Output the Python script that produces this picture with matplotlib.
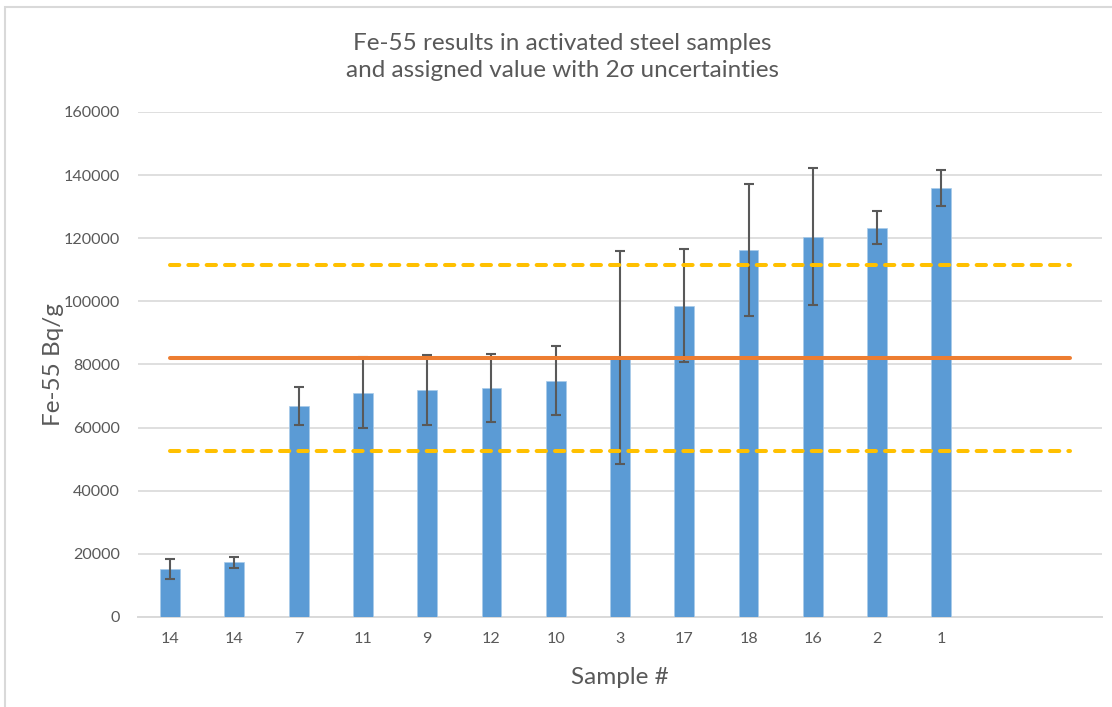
import numpy as np
import matplotlib
matplotlib.use("Agg")
import matplotlib.pyplot as plt
from matplotlib.patches import Rectangle

plt.rcParams['font.family'] = ['Lato', 'DejaVu Sans']
plt.rcParams['lines.scale_dashes'] = False

# Data
sample_labels = ['14', '14', '7', '11', '9', '12', '10', '3', '17', '18', '16', '2', '1']
fe55_values = [15200, 17300, 66800, 71100, 71900, 72500, 74900, 82300, 98600, 116200, 120400, 123400, 135900]
fe55_unc = [3100, 1800, 6000, 11200, 11000, 10800, 11000, 33700, 17900, 20900, 21700, 5300, 5700]
assigned_value = 82100
assigned_unc = 29500
n_slots = 15  # the category axis has two empty slots after the last sample

grey = '#595959'
grid_col = '#D9D9D9'

fig = plt.figure(figsize=(11.12, 7.07), dpi=100)
ax = fig.add_axes([0.1241, 0.1273, 0.8669, 0.7143])

x = np.arange(len(sample_labels))
ax.bar(x, fe55_values, width=0.31, color='#5B9BD5', edgecolor='#A9CBEA', linewidth=0.5,
       yerr=fe55_unc, zorder=2,
       error_kw=dict(ecolor=grey, elinewidth=1.5, capsize=3.3, capthick=1.5, zorder=3))

# assigned value and its 2-sigma band, drawn across all slots
xs = np.arange(n_slots)
ax.plot(xs, np.full(n_slots, assigned_value), color='#ED7D31', lw=2.9,
        solid_capstyle='round', zorder=4)
for lvl in (assigned_value + assigned_unc, assigned_value - assigned_unc):
    ax.plot(xs, np.full(n_slots, lvl), color='#FFC000', lw=2.9, dashes=(6.7, 6.5),
            dash_capstyle='round', zorder=4)

ax.set_xlim(-0.5, n_slots - 0.5)
ax.set_ylim(0, 160000)
ax.set_yticks(np.arange(0, 160001, 20000))
ax.set_xticks(x)
ax.set_xticklabels(sample_labels)
ax.tick_params(axis='both', length=0, labelsize=11.6, colors=grey)
ax.tick_params(axis='y', pad=13)
ax.tick_params(axis='x', pad=11)

ax.grid(axis='y', color=grid_col, lw=1.2, zorder=0)
ax.set_axisbelow(True)
for s in ('top', 'right', 'left'):
    ax.spines[s].set_visible(False)
ax.spines['bottom'].set_color(grid_col)
ax.spines['bottom'].set_linewidth(1.4)
ax.spines['bottom'].set_zorder(1)

ax.set_ylabel('Fe-55 Bq/g', fontsize=17.5, color=grey, labelpad=0)
ax.set_xlabel('Sample #', fontsize=17.5, color=grey, labelpad=15)

fig.text(0.506, 0.919, 'Fe-55 results in activated steel samples\nand assigned value with 2σ uncertainties',
         ha='center', va='center', fontsize=17.5, color=grey, linespacing=1.38)

# chart area border
fig.patches.append(Rectangle((5 / 1112, -0.01), 1.02, 1 - 7 / 707 + 0.01,
                             transform=fig.transFigure, fill=False,
                             edgecolor=grid_col, lw=1.5))

fig.savefig('out.png', dpi=100)
